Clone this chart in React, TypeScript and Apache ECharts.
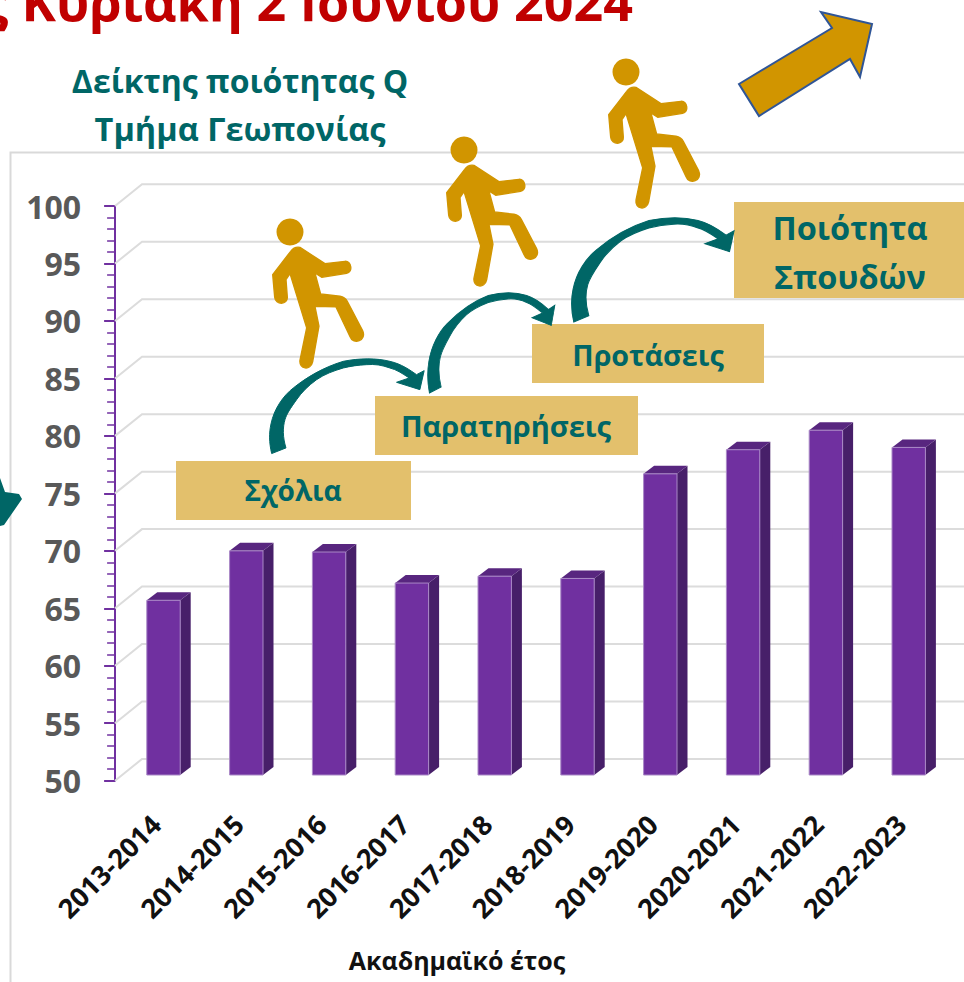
import React, { useEffect, useRef } from "react";
import * as echarts from "echarts";

const categories = ["2013-2014","2014-2015","2015-2016","2016-2017","2017-2018","2018-2019","2019-2020","2020-2021","2021-2022","2022-2023"];
const qualityIndex = [65.2,69.5,69.4,66.7,67.3,67.1,76.2,78.3,80.0,78.5];
const gridTicks = [50,55,60,65,70,75,80,85,90,95,100];

const FONT = '"Open Sans"';
const TEAL = "#006666";
const GOLD = "#D19500";
const BOX = "#E3C06C";
const PURPLE = "#7030A0";
const GRID = "#DCDCDC";

const CURVE = "M5 284 C-3 250 -3 222 3 195 C12 150 40 110 70 87 C110 55 160 25 220 7 C270 -3 320 -3 360 7 C395 15 420 33 440 47 L463 35 L450 92 L380 70 L418 57 C395 42 380 32 360 27 C335 18 315 15 290 17 C265 18 240 22 220 27 C190 36 165 45 140 62 C115 80 95 100 80 122 C60 150 50 165 45 182 C38 205 38 235 48 267 Z";
echarts.graphic.registerShape("curveArrow", echarts.graphic.extendPath(CURVE, {}) as any);

const WALKER = "M30 46 L105 95 L165 88 C185 86 190 122 170 124 L95 136 L75 123 L92 186 L150 193 C160 195 168 200 172 208 L218 296 C232 325 190 342 180 314 L138 225 L75 223 L87 283 L68 390 C62 418 26 412 30 385 L50 288 L0 125 L-12 143 L-8 195 C-6 220 -44 220 -46 196 L-52 128 L2 58 C10 47 20 44 30 46 Z";
echarts.graphic.registerShape("walker", echarts.graphic.extendPath(WALKER, {}) as any);

const person = (x: number, y: number) => ({
  type: "group",
  x,
  y,
  z: 12,
  silent: true,
  children: [
    { type: "circle", z: 12, shape: { cx: 0, cy: 0, r: 13.5 }, style: { fill: GOLD } },
    { type: "walker", z: 12, scaleX: 1 / 3, scaleY: 1 / 3, style: { fill: GOLD, stroke: GOLD, lineWidth: 4, lineJoin: "round" } },
  ],
});

const txt = (text: string, x: number, y: number, size: number, fill: string, align = "center") => ({
  type: "text",
  x,
  y,
  z: 14,
  silent: true,
  style: { text, fill, font: `bold ${size}px ${FONT}`, align, verticalAlign: "middle" },
});

const box = (x: number, y: number, width: number, height: number) => ({
  type: "rect",
  z: 11,
  silent: true,
  shape: { x, y, width, height },
  style: { fill: BOX },
});

const curve = (x: number, y: number, scaleX: number, scaleY: number) => ({
  type: "curveArrow",
  x,
  y,
  scaleX,
  scaleY,
  z: 12,
  silent: true,
  style: { fill: TEAL, stroke: TEAL, lineWidth: 3, lineJoin: "miter" },
});

export default function App() {
  const ref = useRef<HTMLDivElement>(null);
  useEffect(() => {
    document.body.style.margin = "0";
    const chart = echarts.init(ref.current!, undefined, { renderer: "svg" });
    chart.setOption({
      animation: false,
      backgroundColor: "#fff",
      grid: { left: 122.1, width: 828, top: 206, height: 574.7 },
      xAxis: {
        type: "category",
        data: categories,
        axisLine: { show: false },
        axisTick: { show: false },
        axisLabel: {
          rotate: 45,
          interval: 0,
          margin: 31,
          padding: [0, 11, 0, 0],
          color: "#111",
          fontFamily: FONT,
          fontWeight: "bold",
          fontSize: 27,
        },
      },
      yAxis: {
        type: "value",
        min: 50,
        max: 100,
        interval: 5,
        offset: 7,
        axisLine: { show: true, lineStyle: { color: PURPLE, width: 2 } },
        axisTick: { show: true, length: 11, lineStyle: { color: PURPLE, width: 2 } },
        minorTick: { show: true, splitNumber: 5, length: 8, lineStyle: { color: PURPLE, width: 1.5 } },
        splitLine: { show: false },
        axisLabel: { margin: 34, padding: [5, 0, 0, 0], color: "#595959", fontFamily: FONT, fontWeight: "bold", fontSize: 32 },
      },
      series: [
        {
          type: "custom",
          coordinateSystem: "cartesian2d",
          silent: true,
          clip: false,
          z: 1,
          encode: { x: 0, y: 1 },
          data: gridTicks.map((v) => [0, v]),
          renderItem: (_p: any, api: any) => {
            const y = api.coord([0, api.value(1)])[1];
            return {
              type: "polyline",
              shape: { points: [[115, y], [142, y - 21.7], [964, y - 21.7]] },
              style: { fill: "none", stroke: GRID, lineWidth: 2 },
            };
          },
        },
        {
          type: "custom",
          coordinateSystem: "cartesian2d",
          silent: true,
          clip: false,
          z: 3,
          encode: { x: 0, y: 1 },
          data: qualityIndex.map((v, i) => [i, v]),
          renderItem: (_p: any, api: any) => {
            const p = api.coord([api.value(0), api.value(1)]);
            const base = api.coord([api.value(0), 50])[1] - 5.7;
            const top = p[1] - 5.7;
            const l = p[0] - 16.7;
            const r = p[0] + 16.7;
            const dx = 10.5;
            const dy = 8;
            return {
              type: "group",
              children: [
                { type: "polygon", shape: { points: [[r, top], [r + dx, top - dy], [r + dx, base - dy], [r, base]] }, style: { fill: "#471F69" } },
                { type: "polygon", shape: { points: [[l, top], [l + dx, top - dy], [r + dx, top - dy], [r, top]] }, style: { fill: "#58267F" } },
                { type: "rect", shape: { x: l, y: top, width: r - l, height: base - top }, style: { fill: PURPLE, stroke: "#A988C6", lineWidth: 1 } },
              ],
            };
          },
        },
      ],
      graphic: [
        { type: "rect", z: 0, silent: true, shape: { x: 10.5, y: 152.5, width: 1200, height: 1200 }, style: { fill: "none", stroke: "#D9D9D9", lineWidth: 2 } },
        txt("ς Κυριακή 2 Ιουνίου 2024", 633, 0, 52, "#C00000", "right"),
        txt("Δείκτης ποιότητας Q", 240, 80, 32, TEAL),
        txt("Τμήμα Γεωπονίας", 240, 128, 32.5, TEAL),
        txt("Ακαδημαϊκό έτος", 457, 960, 25, "#111"),
        box(176, 461, 235, 59),
        box(375, 396, 263, 59),
        box(532, 324, 232, 59),
        box(734, 202, 230, 96),
        txt("Σχόλια", 293, 490, 28, TEAL),
        txt("Παρατηρήσεις", 506, 425, 29, TEAL),
        txt("Προτάσεις", 648, 354, 28.7, TEAL),
        txt("Ποιότητα", 850, 227, 32.5, TEAL),
        txt("Σπουδών", 850, 276, 32.5, TEAL),
        person(290, 232),
        person(464, 150),
        person(626, 72),
        curve(270, 359, 1 / 3, 1 / 3),
        curve(428, 293, 0.274, 0.352),
        curve(572, 218, 0.35, 0.366),
        { type: "polygon", z: 12, silent: true, shape: { points: [[739, 84], [832, 28], [821, 12], [872, 24], [860, 77], [850, 59], [759, 116]] }, style: { fill: GOLD, stroke: "#2F5597", lineWidth: 2 } },
        { type: "polygon", z: 12, silent: true, shape: { points: [[0, 478], [5, 492], [19, 494], [22, 499], [4, 525], [0, 526]] }, style: { fill: TEAL, lineJoin: "round" } },
      ],
    });
    return () => chart.dispose();
  }, []);
  return <div ref={ref} style={{ width: 964, height: 982 }} />;
}
